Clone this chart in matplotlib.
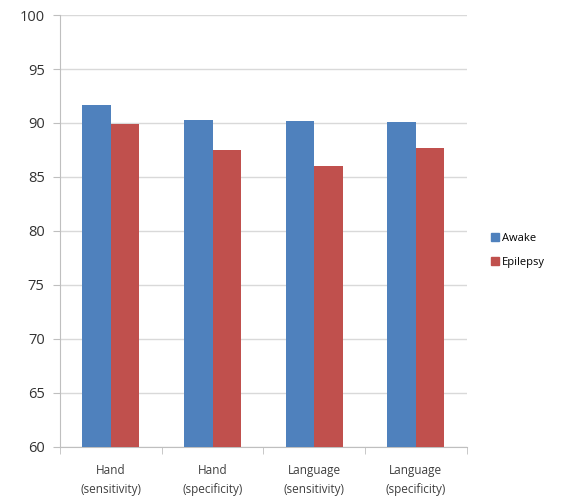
import numpy as np
import matplotlib
matplotlib.use('Agg')
import matplotlib.pyplot as plt
from matplotlib.lines import Line2D

categories = ['Hand\n(sensitivity)', 'Hand\n(specificity)', 'Language\n(sensitivity)', 'Language\n(specificity)']
awake = [91.7, 90.3, 90.15, 90.05]
epilepsy = [89.95, 87.5, 86.0, 87.65]
series_names = ['Awake', 'Epilepsy']
colors = ['#4F81BD', '#C0504D']

plt.rcParams['font.family'] = ['Open Sans', 'DejaVu Sans']

fig = plt.figure(figsize=(5.61, 5.01), dpi=100)
ax = fig.add_axes([0.107, 0.108, 0.725, 0.862])

x = np.arange(len(categories))
w = 0.28
ax.bar(x - w / 2, awake, w, color=colors[0], zorder=3)
ax.bar(x + w / 2, epilepsy, w, color=colors[1], zorder=3)

ax.set_ylim(60, 100)
ax.set_xlim(-0.5, len(categories) - 0.5)
ax.set_yticks(np.arange(60, 101, 5))
ax.yaxis.grid(True, color='#d9d9d9', linewidth=1, zorder=0)

ax.set_xticks(x)
ax.set_xticklabels(categories, fontsize=8.5, color='#404040', linespacing=1.6)
ax.set_xticks(np.arange(-0.5, len(categories), 1), minor=True)
ax.tick_params(axis='x', which='major', length=0, pad=12)
ax.tick_params(axis='x', which='minor', length=5, color='#bfbfbf')
ax.tick_params(axis='y', length=5, color='#bfbfbf', labelsize=10.5, labelcolor='#333333', pad=6)

for s in ['top', 'right']:
    ax.spines[s].set_visible(False)
for s in ['left', 'bottom']:
    ax.spines[s].set_color('#bfbfbf')

handles = [Line2D([], [], marker='s', linestyle='', color=c, markersize=6) for c in colors]
fig.legend(handles, series_names, loc='center left', bbox_to_anchor=(0.855, 0.5),
           frameon=False, fontsize=8, handletextpad=0.1, labelspacing=1.2, handlelength=1)

fig.savefig('out.png', dpi=100)
